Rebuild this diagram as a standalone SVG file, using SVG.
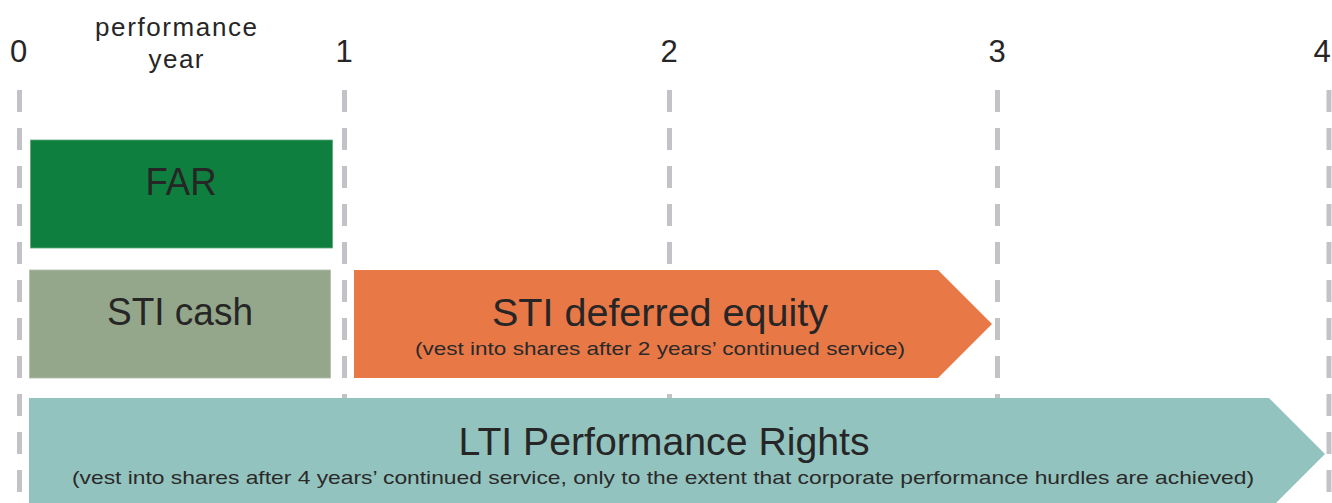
<svg xmlns="http://www.w3.org/2000/svg" width="1332" height="503" viewBox="0 0 1332 503">
  <style>
    .grid { stroke: #c3c3c7; stroke-width: 5; stroke-dasharray: 22 16; fill: none; }
    .tick { font-family: "Liberation Sans", Arial, sans-serif; font-size: 31px; fill: #262626; text-anchor: middle; }
    .cap { font-family: "Liberation Sans", Arial, sans-serif; font-size: 26px; fill: #262626; text-anchor: middle; }
    .big { font-family: "Liberation Sans", Arial, sans-serif; font-size: 38px; fill: #262626; text-anchor: middle; }
    .small { font-family: "Liberation Sans", Arial, sans-serif; font-size: 19px; fill: #2a2a2a; text-anchor: middle; }
  </style>
  <rect x="0" y="0" width="1332" height="503" fill="#ffffff"/>
  <g id="axis">
    <text class="tick" x="18.5" y="62">0</text>
    <text class="tick" x="344" y="62">1</text>
    <text class="tick" x="669" y="62">2</text>
    <text class="tick" x="997" y="62">3</text>
    <text class="tick" x="1322" y="62">4</text>
    <text class="cap" x="176" y="36" textLength="162" lengthAdjust="spacing">performance</text>
    <text class="cap" x="176" y="68" textLength="55" lengthAdjust="spacing">year</text>
  </g>
  <g id="connectors">
    <line class="grid" x1="19.5" y1="90" x2="19.5" y2="503"/>
    <line class="grid" x1="344.5" y1="90" x2="344.5" y2="503"/>
    <line class="grid" x1="669.5" y1="90" x2="669.5" y2="503"/>
    <line class="grid" x1="997.5" y1="90" x2="997.5" y2="503"/>
    <line class="grid" x1="1329" y1="90" x2="1329" y2="503"/>
  </g>
  <g id="far">
    <rect x="30.5" y="140" width="302" height="108" fill="#0e7f3e" stroke="#5fa97c" stroke-width="0.8"/>
    <text class="big" x="181" y="195" font-size="36" textLength="71" lengthAdjust="spacingAndGlyphs">FAR</text>
  </g>
  <g id="sti-cash">
    <rect x="29.5" y="270" width="301" height="108" fill="#94a78a" stroke="#b0beaa" stroke-width="0.8"/>
    <text class="big" x="180" y="325" font-size="36" textLength="146" lengthAdjust="spacingAndGlyphs">STI cash</text>
  </g>
  <g id="sti-deferred">
    <polygon points="354,270 938,270 992,324 938,378 354,378" fill="#e97847"/>
    <text class="big" x="660" y="326" textLength="336" lengthAdjust="spacingAndGlyphs">STI deferred equity</text>
    <text class="small" x="660" y="355" textLength="490" lengthAdjust="spacingAndGlyphs">(vest into shares after 2 years’ continued service)</text>
  </g>
  <g id="lti">
    <polygon points="29,398 1269,398 1325,454 1269,510 29,510" fill="#93c3be"/>
    <text class="big" x="664" y="455" textLength="411" lengthAdjust="spacingAndGlyphs">LTI Performance Rights</text>
    <text class="small" x="663" y="484" textLength="1182" lengthAdjust="spacingAndGlyphs">(vest into shares after 4 years’ continued service, only to the extent that corporate performance hurdles are achieved)</text>
  </g>
</svg>
